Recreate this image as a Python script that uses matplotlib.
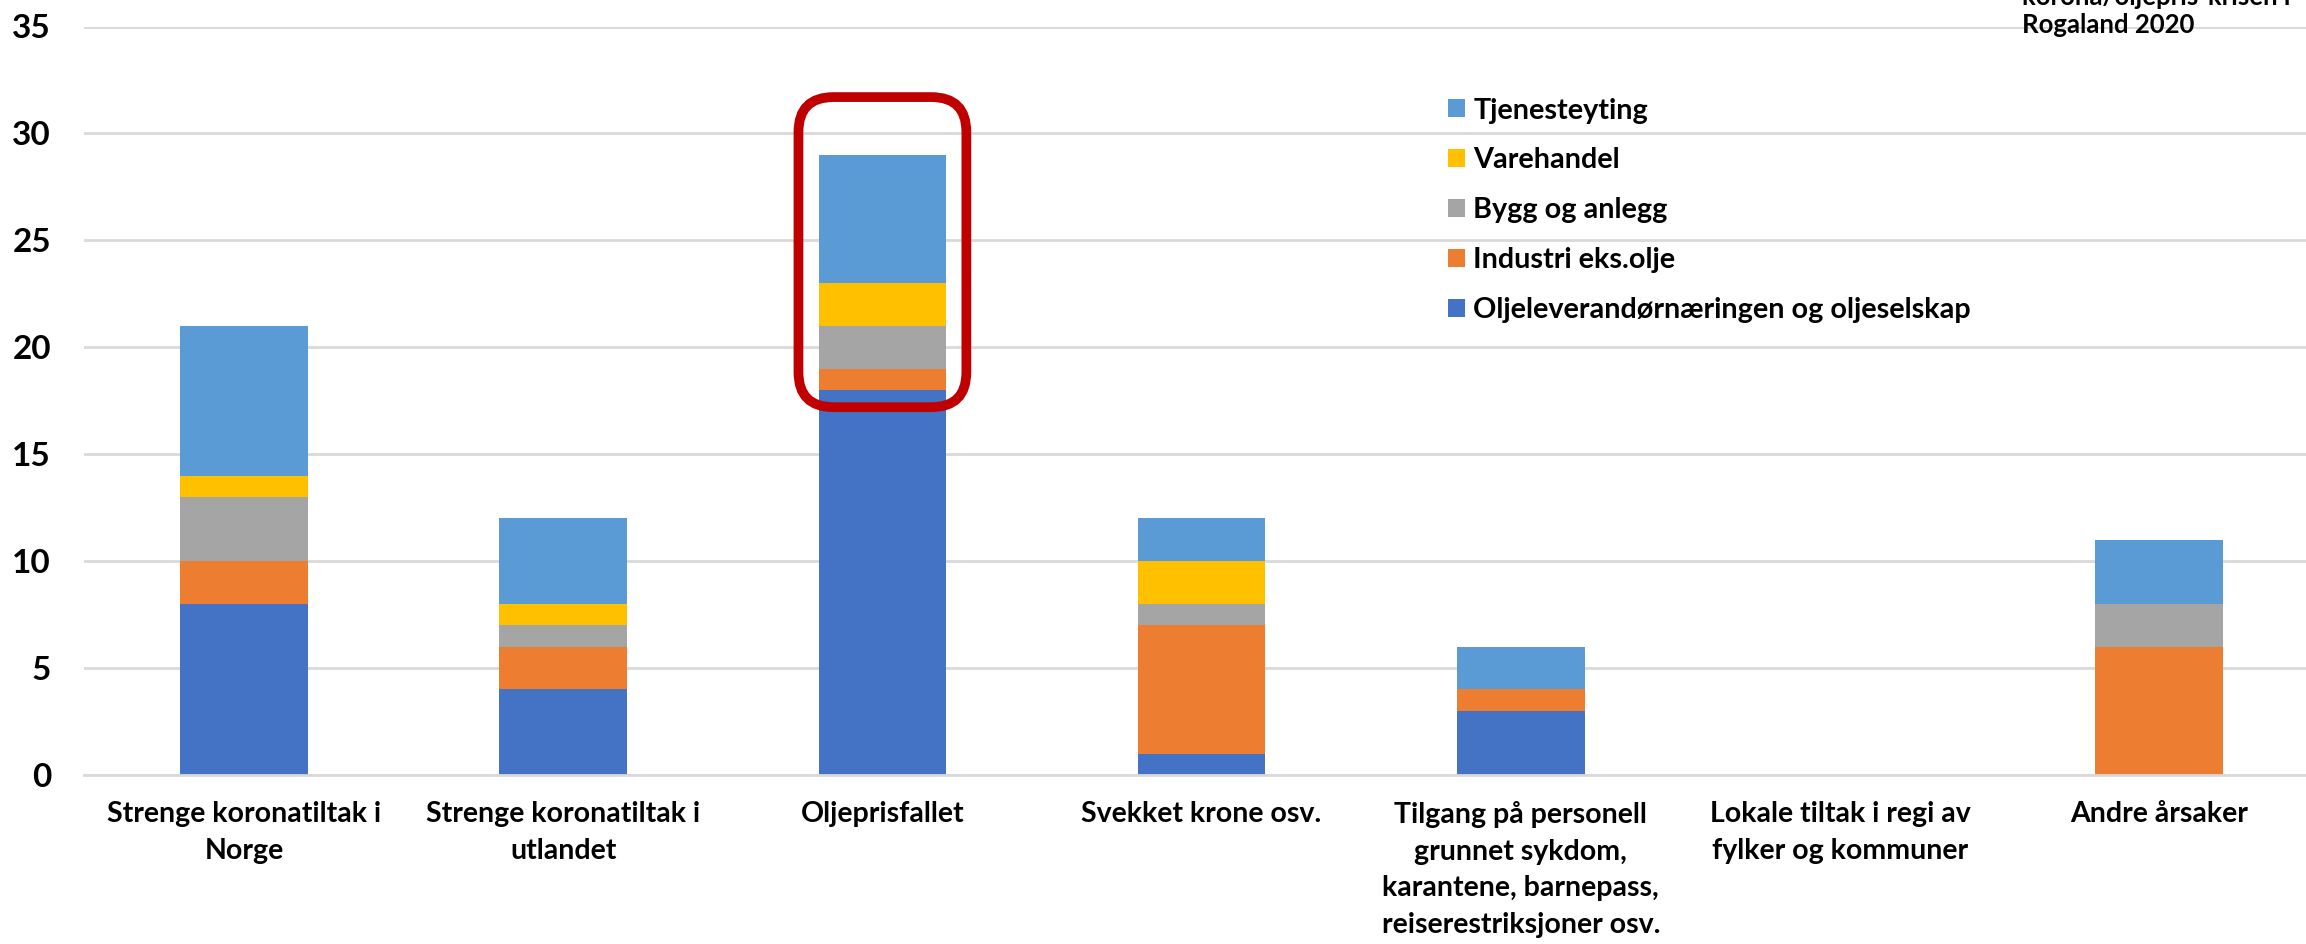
import matplotlib.pyplot as plt
import numpy as np
from matplotlib.patches import FancyBboxPatch

categories = [
    "Strenge koronatiltak i\nNorge",
    "Strenge koronatiltak i\nutlandet",
    "Oljeprisfallet",
    "Svekket krone osv.",
    "Tilgang på personell\ngrunnet sykdom,\nkarantene, barnepass,\nreiserestriksjoner osv.",
    "Lokale tiltak i regi av\nfylker og kommuner",
    "Andre årsaker",
]

olje      = [8, 4, 18, 1, 3, 0, 0]
industri  = [2, 2, 1, 6, 1, 0, 6]
bygg      = [3, 1, 2, 1, 0, 0, 2]
varehandel = [1, 1, 2, 2, 0, 0, 0]
tjeneste  = [7, 4, 6, 2, 2, 0, 3]

series = [
    ("Oljeleverandørnæringen og oljeselskap", olje, "#4472C4"),
    ("Industri eks.olje", industri, "#ED7D31"),
    ("Bygg og anlegg", bygg, "#A5A5A5"),
    ("Varehandel", varehandel, "#FFC000"),
    ("Tjenesteyting", tjeneste, "#5B9BD5"),
]

plt.rcParams['font.family'] = ['Lato', 'DejaVu Sans']
plt.rcParams['font.weight'] = 'bold'

W, H = 2306, 944
fig = plt.figure(figsize=(W / 100, H / 100), dpi=100)
ax = fig.add_axes([84.4 / W, 169 / H, 7 * 319.2 / W, 748.5 / H])

x = np.arange(len(categories))
bottom = np.zeros(len(categories))
handles = []
for name, vals, color in series:
    b = ax.bar(x, vals, 0.4, bottom=bottom, color=color, label=name, zorder=2)
    handles.append(b)
    bottom += np.array(vals)

ax.set_xlim(-0.5, len(categories) - 0.5)
ax.set_ylim(0, 35)
ax.set_yticks(np.arange(0, 36, 5))
ax.yaxis.grid(True, color='#D9D9D9', linewidth=2, zorder=0)
ax.set_axisbelow(True)
for s in ['top', 'right', 'left']:
    ax.spines[s].set_visible(False)
ax.spines['bottom'].set_color('#D9D9D9')
ax.spines['bottom'].set_linewidth(2)
ax.tick_params(axis='y', length=0, pad=24, labelsize=24)
ax.tick_params(axis='x', length=0, pad=19, labelsize=20.5)
ax.set_xticks(x)
ax.set_xticklabels(categories, fontweight='bold', linespacing=1.5)
for lbl in ax.get_yticklabels():
    lbl.set_fontweight('bold')

leg = ax.legend(handles[::-1], [s[0] for s in series][::-1],
                loc='upper left', bbox_to_anchor=(1436 / W, 1 - 86 / H),
                bbox_transform=fig.transFigure, frameon=False, fontsize=20.7,
                handlelength=0.6, handleheight=0.6, handletextpad=0.3,
                labelspacing=0.83, borderaxespad=0)

# red highlight around Oljeprisfallet
i = 2
total = bottom[i]
px_x = 7 * 319.2 / 7  # pixels per x unit
px_y = 748.5 / 35     # pixels per y unit
aspect = px_x / px_y
box = FancyBboxPatch((i - 0.263, olje[i] - 0.8), 0.526, total + 2.7 - (olje[i] - 0.8),
                     boxstyle="round,pad=0,rounding_size=0.11",
                     mutation_aspect=aspect, facecolor='none',
                     edgecolor='#C00000', linewidth=7, zorder=3)
ax.add_patch(box)

fig.text(2022 / W, 1 - 5 / H, "korona/oljepris-krisen i", fontsize=18.5,
         fontweight='bold', va='baseline', ha='left')
fig.text(2022 / W, 1 - 33 / H, "Rogaland 2020", fontsize=18.5,
         fontweight='bold', va='baseline', ha='left')

fig.savefig('out.png', dpi=100)
